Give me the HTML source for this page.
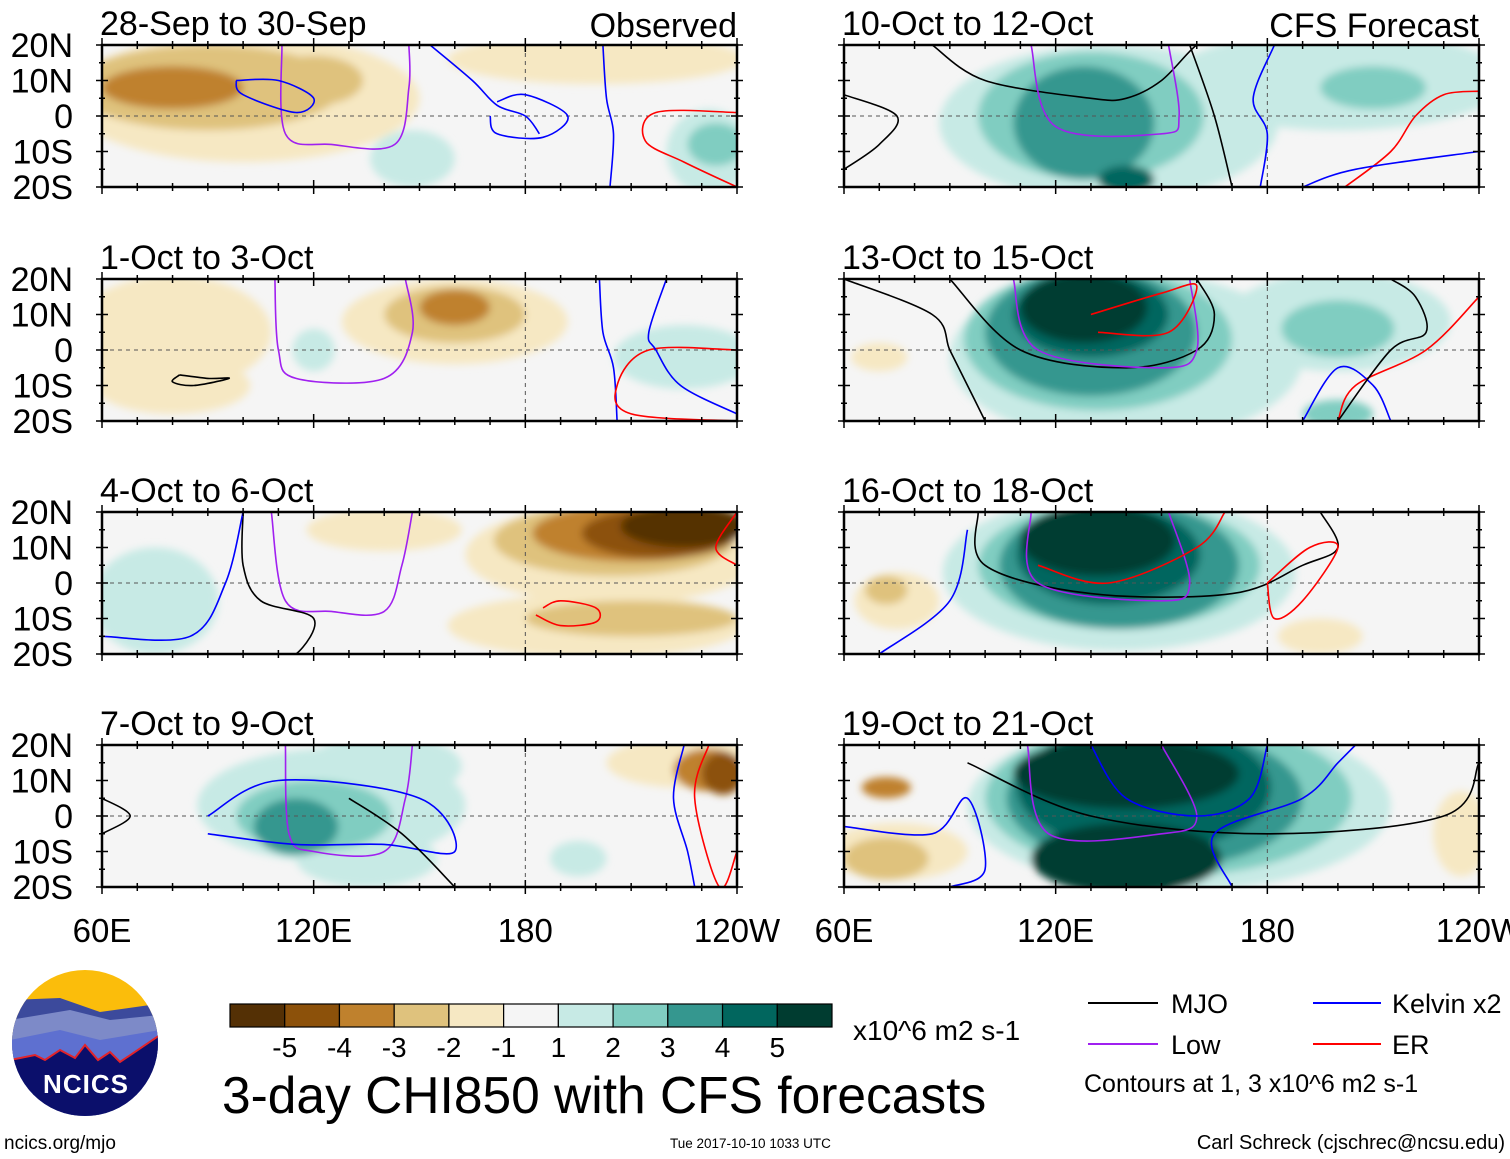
<!DOCTYPE html>
<html><head><meta charset="utf-8"><style>
body{margin:0;background:#fff}
svg{display:block;font-family:"Liberation Sans",sans-serif}
</style></head><body>
<svg id="fig" width="1510" height="1159" viewBox="0 0 1510 1159">
<defs><filter id="bl" x="-20%" y="-20%" width="140%" height="140%"><feGaussianBlur stdDeviation="4"/></filter></defs>
<g id="panels"></g>
<g id="bottom">
 <g>
  <clipPath id="lc"><circle cx="85" cy="1043" r="73"/></clipPath>
  <g clip-path="url(#lc)">
   <rect x="10" y="968" width="150" height="150" fill="#fbbd0b"/>
   <path d="M10 1000 L60 998 L100 1012 L150 1005 L160 1010 L160 1118 L10 1118Z" fill="#3c4a9c"/>
   <path d="M10 1020 L70 1010 L110 1020 L160 1015 L160 1118 L10 1118Z" fill="#7d8ac8"/>
   <path d="M10 1040 L60 1030 L100 1040 L160 1030 L160 1118 L10 1118Z" fill="#5e70d0"/>
   <path d="M10 1060 L35 1055 L45 1060 L60 1050 L75 1058 L85 1045 L98 1060 L110 1052 L120 1062 L160 1035 L160 1118 L10 1118Z" fill="#0b0f6b" stroke="#e2232a" stroke-width="2"/>
  </g>
  <text x="86" y="1093" font-size="26" font-weight="bold" fill="#fff" text-anchor="middle" letter-spacing="1">NCICS</text>
 </g>
 <text x="4" y="1149" font-size="19">ncics.org/mjo</text>
 <g id="cbar"></g>
 <text x="853" y="1040" font-size="28">x10^6 m2 s-1</text>
 <text x="222" y="1113" font-size="51.5">3-day CHI850 with CFS forecasts</text>
 <text x="670" y="1148" font-size="13.5">Tue 2017-10-10 1033 UTC</text>
 <text x="1505" y="1149" font-size="20" text-anchor="end">Carl Schreck (cjschrec@ncsu.edu)</text>
 <g font-size="27">
  <line x1="1088" y1="1003" x2="1158" y2="1003" stroke="#000" stroke-width="2"/><text x="1171" y="1013">MJO</text>
  <line x1="1088" y1="1044" x2="1158" y2="1044" stroke="#a020f0" stroke-width="2"/><text x="1171" y="1054">Low</text>
  <line x1="1313" y1="1003" x2="1381" y2="1003" stroke="#0000ff" stroke-width="2"/><text x="1392" y="1013">Kelvin x2</text>
  <line x1="1313" y1="1044" x2="1381" y2="1044" stroke="#ff0000" stroke-width="2"/><text x="1392" y="1054">ER</text>
  <text x="1084" y="1092" font-size="25">Contours at 1, 3 x10^6 m2 s-1</text>
 </g>
</g>
</svg>
<script>
const NS="http://www.w3.org/2000/svg";
const levelColors=["#543005","#8c510a","#bf812d","#dfc27d","#f6e8c3","#f5f5f5","#c7eae5","#80cdc1","#35978f","#01665e","#003c30"];
const cbarLabels=["-5","-4","-3","-2","-1","1","2","3","4","5"];
const panelTitles=["28-Sep to 30-Sep","1-Oct to 3-Oct","4-Oct to 6-Oct","7-Oct to 9-Oct","10-Oct to 12-Oct","13-Oct to 15-Oct","16-Oct to 18-Oct","19-Oct to 21-Oct"];
const latLabels=["20N","10N","0","10S","20S"];
const lonLabels=["60E","120E","180","120W"];
// shading blobs: [panel, lon, lat, halfWidthDeg, halfHeightDeg, value]
const blobs=[
[0,100,5,50,18,-1],[0,90,8,38,12,-2],[0,80,8,20,6,-3],[0,120,10,14,7,-2],[0,200,16,42,7,-1],[0,232,-10,12,12,1],[0,234,-8,8,6,2],[0,148,-12,12,8,1],
[1,80,5,28,16,-1],[1,160,8,32,12,-1],[1,160,10,20,8,-2],[1,160,12,10,5,-3],[1,225,-2,20,9,1],[1,120,0,6,6,1],[1,80,-10,22,8,-1],
[2,75,-5,18,15,1],[2,205,8,42,14,-1],[2,205,12,34,10,-2],[2,210,14,28,8,-3],[2,218,14,22,7,-4],[2,225,16,18,6,-5],[2,200,-12,42,9,-1],[2,210,-10,30,5,-2],[2,140,15,22,6,-1],
[3,125,3,38,16,1],[3,120,0,22,10,2],[3,115,-3,12,8,3],[3,140,14,22,9,1],[3,135,-12,20,8,1],[3,225,15,22,7,-1],[3,232,13,10,6,-3],[3,236,12,6,6,-4],[3,195,-12,8,5,1],
[4,135,-2,48,22,1],[4,130,0,32,18,2],[4,128,-2,20,16,3],[4,200,10,48,14,1],[4,210,8,15,6,2],[4,140,-18,8,4,4],
[5,140,-2,50,24,1],[5,132,3,38,20,2],[5,130,5,30,18,3],[5,130,10,22,12,4],[5,128,12,18,10,5],[5,200,8,32,14,1],[5,200,6,16,8,2],[5,70,-2,8,4,-1],[5,200,-18,10,4,2],
[6,138,3,50,22,1],[6,138,5,40,18,2],[6,138,5,34,18,3],[6,135,8,26,14,4],[6,132,12,22,10,5],[6,75,-5,12,8,-1],[6,72,-2,6,4,-2],[6,195,-15,12,5,-1],
[7,155,3,60,24,1],[7,152,5,52,22,2],[7,148,5,42,20,3],[7,145,8,36,18,4],[7,140,12,32,10,5],[7,140,-12,27,10,5],[7,75,-10,20,8,-1],[7,72,-12,12,6,-2],[7,72,8,7,3,-3],[7,235,-5,8,12,-1]
];
// contours: [panel, type, lons, lats]
const contours=[
[0,"low",[147,147,143,125,112,111],[20,8,-8,-8,-5,20]],[0,"kelvin",[98,110,120,115,100,98],[10,10,5,1,6,10]],[0,"kelvin",[172,180,192,185,172,170],[4,6,0,-6,-5,0]],[0,"kelvin",[202,203,205,204],[20,5,-5,-20]],[0,"er",[240,217,214,225,240],[1,1,-7,-13,-20]],[0,"kelvin",[153,165,172,180,184],[20,10,3,0,-5]],
[1,"low",[146,148,140,115,110,109],[20,5,-8,-8,0,20]],[1,"mjo",[82,90,96,86,80,82],[-7,-8,-8,-10,-9,-7]],[1,"kelvin",[201,202,205,206],[20,5,-5,-20]],[1,"er",[240,215,206,210,240],[0,0,-10,-18,-20]],[1,"kelvin",[220,215,217,224,240],[20,5,0,-10,-18]],
[2,"low",[148,145,140,125,112,108],[20,5,-8,-8,-5,20]],[2,"mjo",[100,100,105,120,115,107],[20,5,-5,-10,-20,-20]],[2,"kelvin",[60,85,95,100],[-15,-15,0,20]],[2,"er",[185,190,200,200,190,183],[-7,-5,-7,-11,-12,-9]],[2,"er",[240,234,240],[20,10,5]],
[3,"low",[148,146,140,120,113,112],[20,5,-10,-10,-5,20]],[3,"kelvin",[90,110,150,160,140,115,90],[0,10,5,-10,-8,-8,-5]],[3,"kelvin",[225,222,226,228],[20,5,-10,-20]],[3,"er",[232,228,235,240],[20,5,-20,-10]],[3,"mjo",[60,68,60],[5,0,-5]],[3,"mjo",[130,145,160],[5,-5,-20]],
[4,"mjo",[60,75,70,60],[6,0,-8,-15]],[4,"mjo",[85,100,130,140,150,160,165],[20,10,5,5,10,20,20]],[4,"mjo",[158,165,170],[20,0,-20]],[4,"low",[113,120,150,155,152],[20,-3,-5,0,20]],[4,"kelvin",[182,176,180,178],[20,5,-5,-20]],[4,"er",[240,230,222,215,202],[7,6,0,-10,-20]],[4,"kelvin",[190,205,240],[-20,-15,-10]],
[5,"mjo",[60,85,90,95,100],[20,10,0,-10,-20]],[5,"mjo",[90,110,140,160,165,160],[20,0,-5,0,10,20]],[5,"low",[108,115,150,160,158],[20,0,-5,0,20]],[5,"er",[130,150,160,152,132],[10,16,18,5,5]],[5,"er",[200,205,225,240],[-20,-10,0,15]],[5,"kelvin",[190,200,210,215],[-20,-5,-10,-20]],[5,"mjo",[200,215,225,222,215],[-20,0,5,15,20]],
[6,"mjo",[98,100,130,170,190,200,195],[20,5,-3,-3,5,10,20]],[6,"low",[113,115,150,158,152],[20,0,-5,0,20]],[6,"er",[115,135,160,168],[5,0,10,20]],[6,"er",[180,192,200,190,182,180],[0,10,10,-5,-10,0]],[6,"kelvin",[70,90,95],[-20,-5,15]],
[7,"mjo",[95,130,180,230,240],[15,0,-5,0,15]],[7,"low",[112,118,150,160,150],[20,-5,-5,0,20]],[7,"kelvin",[60,85,95,100,90],[-3,-5,5,-15,-20]],[7,"kelvin",[170,165,190,200,205],[-20,-5,5,15,20]],[7,"kelvin",[130,140,160,175,180],[20,5,0,5,20]]
];
const lineColors={mjo:"#000",low:"#a020f0",kelvin:"#0000ff",er:"#ff0000"};
const PW=635,PH=142;
const panelX=[102,102,102,102,844,844,844,844];
const panelY=[45,279,512,745,45,279,512,745];
function xs(p,lon){return panelX[p]+(lon-60)/180*PW;}
function ys(p,lat){return panelY[p]+(20-lat)/40*PH;}
function colorOf(v){return levelColors[v+5];}
function el(tag,attrs,parent){const e=document.createElementNS(NS,tag);for(const k in attrs)e.setAttribute(k,attrs[k]);parent.appendChild(e);return e;}
function smooth(pts){
 let d="M"+pts[0][0].toFixed(1)+" "+pts[0][1].toFixed(1);
 for(let i=0;i<pts.length-1;i++){
  const p0=pts[i-1]||pts[i],p1=pts[i],p2=pts[i+1],p3=pts[i+2]||p2;
  const c1=[p1[0]+(p2[0]-p0[0])/6,p1[1]+(p2[1]-p0[1])/6],c2=[p2[0]-(p3[0]-p1[0])/6,p2[1]-(p3[1]-p1[1])/6];
  d+="C"+c1[0].toFixed(1)+" "+c1[1].toFixed(1)+" "+c2[0].toFixed(1)+" "+c2[1].toFixed(1)+" "+p2[0].toFixed(1)+" "+p2[1].toFixed(1);
 }
 return d;
}
const root=document.getElementById("panels");
for(let p=0;p<8;p++){
 const g=el("g",{},root);
 
 
 const cp=el("clipPath",{id:"c"+p},g);el("rect",{x:panelX[p],y:panelY[p],width:PW,height:PH},cp);
 const inner=el("g",{"clip-path":"url(#c"+p+")"},g);
 el("rect",{x:panelX[p],y:panelY[p],width:PW,height:PH,fill:"#f5f5f5"},inner);
 const sh=el("g",{filter:"url(#bl)"},inner);
 const order=blobs.filter(b=>b[0]===p).sort((a,b)=>Math.abs(a[5])-Math.abs(b[5]));
 for(const b of order){
  const e=el("ellipse",{cx:xs(p,b[1]),cy:ys(p,b[2]),rx:b[3]/180*PW,ry:b[4]/40*PH,fill:colorOf(b[5])},sh);
  
  
 }
 el("line",{x1:panelX[p],x2:panelX[p]+PW,y1:ys(p,0),y2:ys(p,0),stroke:"#555","stroke-dasharray":"4,4","stroke-width":1},inner);
 el("line",{x1:xs(p,180),x2:xs(p,180),y1:panelY[p],y2:panelY[p]+PH,stroke:"#555","stroke-dasharray":"4,4","stroke-width":1},inner);
 for(const c of contours.filter(c=>c[0]===p)){
  const pts=c[2].map((lo,i)=>[xs(p,lo),ys(p,c[3][i])]);
  const pl=el("path",{d:smooth(pts),fill:"none",stroke:lineColors[c[1]],"stroke-width":1.6,"stroke-linejoin":"round"},inner);
  
  
 }
 el("rect",{x:panelX[p],y:panelY[p],width:PW,height:PH,fill:"none",stroke:"#000","stroke-width":2.5},g);
 for(let lon=60;lon<=240;lon+=10){const L=(lon%60===0)?7:4;const x=xs(p,lon);
  el("line",{x1:x,x2:x,y1:panelY[p]-L,y2:panelY[p]+L,stroke:"#000","stroke-width":1.5},g);
  el("line",{x1:x,x2:x,y1:panelY[p]+PH-L,y2:panelY[p]+PH+L,stroke:"#000","stroke-width":1.5},g);}
 for(let lat=-20;lat<=20;lat+=5){const L=(lat%10===0)?6:3;const y=ys(p,lat);
  el("line",{x1:panelX[p]-L,x2:panelX[p]+L,y1:y,y2:y,stroke:"#000","stroke-width":1.5},g);
  el("line",{x1:panelX[p]+PW-L,x2:panelX[p]+PW+L,y1:y,y2:y,stroke:"#000","stroke-width":1.5},g);}
 const t=el("text",{x:panelX[p]-2,y:panelY[p]-10,"font-size":34},g);t.textContent=panelTitles[p];
 
 
 if(p<4){latLabels.forEach((s,i)=>{const lt=el("text",{x:73,y:panelY[p]+i*PH/4+12,"font-size":34,"text-anchor":"end"},g);lt.textContent=s;
  
  });}
}
const h1=el("text",{x:737,y:37,"font-size":34,"text-anchor":"end"},root);h1.textContent="Observed";


const h2=el("text",{x:1479,y:37,"font-size":34,"text-anchor":"end"},root);h2.textContent="CFS Forecast";


[0,4].forEach(p=>{lonLabels.forEach((s,i)=>{const lt=el("text",{x:xs(p,60+i*60),y:942,"font-size":33,"text-anchor":"middle"},root);lt.textContent=s;
 
 });});
const cb=document.getElementById("cbar");const bw=(832-230)/11;
levelColors.forEach((c,i)=>{const r=el("rect",{x:230+i*bw,y:1004,width:bw,height:23,fill:c,stroke:"#000","stroke-width":1.2},cb);
 
 });
cbarLabels.forEach((s,i)=>{const t=el("text",{x:230+(i+1)*bw,y:1057,"font-size":28,"text-anchor":"middle"},cb);t.textContent=s;
 
 });
</script>
</body></html>
